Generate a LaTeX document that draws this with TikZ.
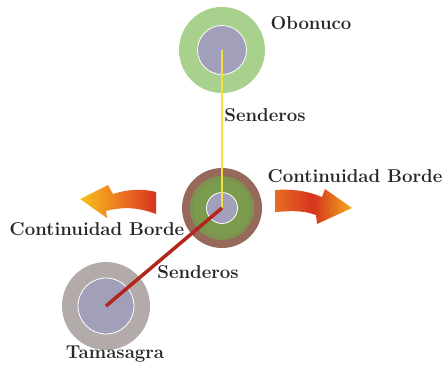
\documentclass[tikz,border=0pt]{standalone}
\usetikzlibrary{calc}
\definecolor{OboClr}{HTML}{A9D18E}
\definecolor{CoreClr}{HTML}{A29FBA}
\definecolor{TamClr}{HTML}{B2ABAA}
\definecolor{RimClr}{HTML}{96695A}
\definecolor{RingClr}{HTML}{7B9B4E}
\definecolor{PathYClr}{HTML}{F2E13C}
\definecolor{PathRClr}{HTML}{B3261C}
\definecolor{ArrYClr}{HTML}{F5C21A}
\definecolor{ArrOClr}{HTML}{EE7A22}
\definecolor{ArrRClr}{HTML}{D5341F}
\tikzset{
  lbl/.style={font=\fontsize{18.6}{22}\selectfont\bfseries,text=black!85,inner sep=0pt},
  core/.style={fill=CoreClr,draw=white,line width=0.8pt}
}

\begin{document}
\begin{tikzpicture}[x=1pt,y=-1pt]
\useasboundingbox (0,0) rectangle (444,370);

\coordinate (O) at (222,50);
\coordinate (C) at (222,208);
\coordinate (T) at (106,306);

% nodos
\fill[OboClr] (O) circle[radius=43pt];
\draw[core] (O) circle[radius=24.5pt];

\fill[RimClr] (C) circle[radius=40pt];
\fill[RingClr!85!RimClr] (C) circle[radius=32pt];
\fill[RingClr] (C) circle[radius=28pt];
\draw[core] (C) circle[radius=15.5pt];

\fill[TamClr] (T) circle[radius=44pt];
\draw[core] (T) circle[radius=28pt];

% senderos
\draw[PathYClr,line width=2pt] (O) -- (C);
\draw[PathRClr,line width=3.5pt] (C) -- (T);

% flechas
\shade[left color=ArrYClr,right color=ArrRClr,middle color=ArrOClr]
  (156,192) .. controls (140,188) and (125,190) .. (113,194)
  -- (108,185) -- (80,199) -- (107,218) -- (106,211)
  .. controls (125,206) and (140,208) .. (156,214) -- cycle;
\shade[left color=ArrOClr!80!ArrRClr,right color=ArrYClr!70!ArrOClr,middle color=ArrRClr]
  (275,190) .. controls (290,189) and (305,190) .. (322,197)
  -- (325,189) -- (352,208) -- (317,224) -- (316,215)
  .. controls (302,210) and (290,211) .. (275,212) -- cycle;

% textos
\node[lbl] (obo) at (311,23) {Obonuco};
\node[lbl] (sendA) at (265,115) {Senderos};
\node[lbl] (contR) at (355,176) {Continuidad Borde};
\node[lbl] (contL) at (97,229) {Continuidad Borde};
\node[lbl] (sendB) at (198,272) {Senderos};
\node[lbl] (tam) at (115,354) {Tamasagra};

\end{tikzpicture}
\end{document}
